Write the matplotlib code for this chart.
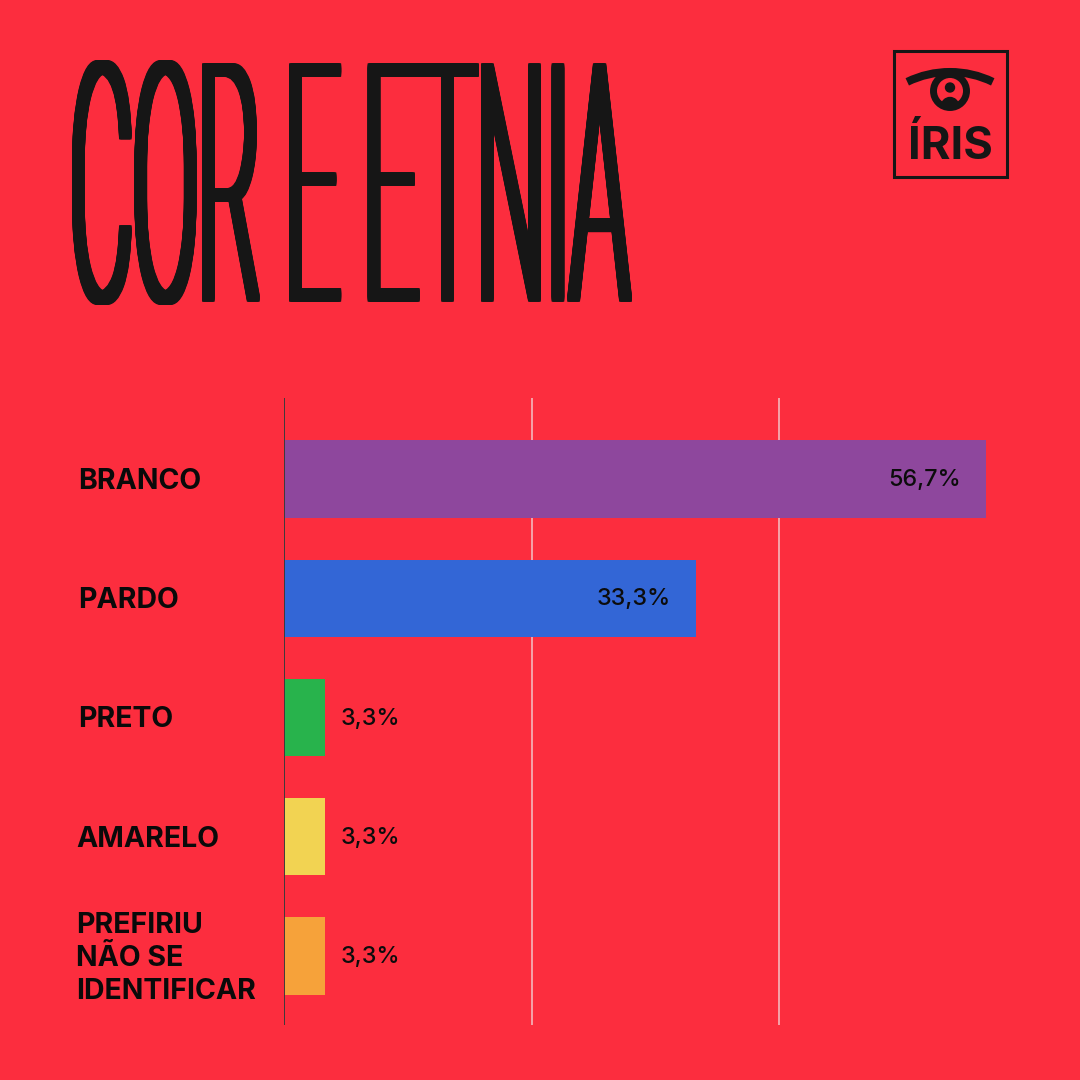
import numpy as np
import matplotlib
matplotlib.use('Agg')
import matplotlib.pyplot as plt
from matplotlib.textpath import TextPath
from matplotlib.font_manager import FontProperties
from matplotlib.patches import PathPatch, Rectangle, Arc, Circle, Wedge
from matplotlib.transforms import Affine2D, blended_transform_factory

# data
categories = ['BRANCO', 'PARDO', 'PRETO', 'AMARELO', 'PREFIRIU\nNÃO SE\nIDENTIFICAR']
values = [56.7, 33.3, 3.3, 3.3, 3.3]
value_labels = ['56,7%', '33,3%', '3,3%', '3,3%', '3,3%']
bar_colors = ['#8e479d', '#3366d6', '#28b34c', '#f2d352', '#f6a23a']
grid_ticks = [20, 40]
title = 'COR E ETNIA'

bg = '#fc2d3e'
ink = '#161616'
W = H = 1080

fig = plt.figure(figsize=(10.8, 10.8), dpi=100, facecolor=bg)

# overlay in pixel coords (y down) for title + logo
deco = fig.add_axes([0, 0, 1, 1])
deco.set_xlim(0, W)
deco.set_ylim(H, 0)
deco.axis('off')
deco.patch.set_alpha(0)

# title: condensed by squeezing a text path into its box, smeared to thicken strokes
tp = TextPath((0, 0), title, size=100, prop=FontProperties(family='Roboto', weight='light'))
ext = tp.get_extents()
smear_x, smear_y = 10, 5
sx = (560 - smear_x) / ext.width
sy = (245 - smear_y) / ext.height
for dx in np.arange(0, smear_x + 0.5, 1.0):
    for dy in np.arange(0, smear_y + 0.5, 1.0):
        tr = Affine2D().translate(-ext.x0, -ext.y0).scale(sx, -sy).translate(72 + dx, 305 - dy)
        deco.add_patch(PathPatch(tr.transform_path(tp), fc=ink, ec='none'))

# logo
deco.add_patch(Rectangle((893.5, 50.5), 113.5, 126, fill=False, lw=2.2, ec=ink))
deco.add_patch(Arc((950, 169.5), 195, 195, theta1=244, theta2=296, lw=5.8, color=ink))
deco.add_patch(Circle((950, 91), 16.5, fill=False, lw=5, ec=ink))
deco.add_patch(Circle((950, 87.5), 4.5, color=ink))
deco.add_patch(Wedge((950, 106), 8.5, 180, 360, color=ink))
deco.text(950, 159, 'ÍRIS', ha='center', va='baseline', fontsize=32.5,
          family='Inter', weight='bold', color=ink)

# bar chart
ax = fig.add_axes([284 / W, 55 / H, 742.5 / W, 627 / H])
ax.patch.set_alpha(0)
y = np.arange(len(categories))
ax.barh(y, values, height=0.65, color=bar_colors, zorder=2)
for g in grid_ticks:
    ax.axvline(g, color='#f4c2c6', lw=1.1, zorder=1)
ax.axvline(0, color='#3e3a3b', lw=1.4, zorder=3)
ax.set_xlim(0, 60)
ax.set_ylim(4.58, -0.68)
for s in ax.spines.values():
    s.set_visible(False)
ax.set_xticks([])
ax.set_yticks([])

for i, (v, lab) in enumerate(zip(values, value_labels)):
    if v > 20:
        ax.text(v - 2.0, i + 0.01, lab, ha='right', va='center', fontsize=16.8,
                family='Inter', weight='medium', color='#0c0c0c', zorder=4)
    else:
        ax.text(v + 1.3, i + 0.01, lab, ha='left', va='center', fontsize=16.8,
                family='Inter', weight='medium', color='#0c0c0c', zorder=4)

lab_tr = blended_transform_factory(fig.transFigure, ax.transData)
for i, c in enumerate(categories):
    x0 = 78 if '\n' not in c and len(c) < 7 else 76
    fig.text(x0 / W, i + 0.02, c, transform=lab_tr, ha='left', va='center', fontsize=20.5,
             family='Inter', weight='bold', color='#0a0a0a', linespacing=1.28)

fig.savefig('out.png', dpi=100, facecolor=bg)
